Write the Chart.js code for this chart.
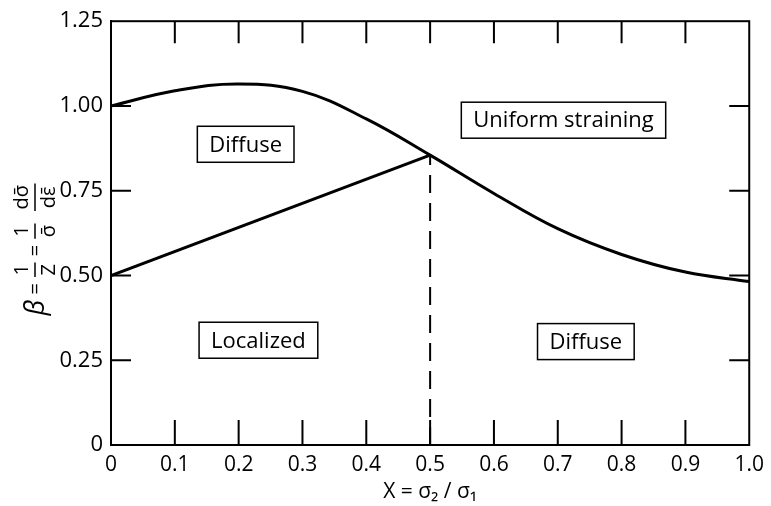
<!DOCTYPE html>
<html lang="en">
<head>
  <meta charset="UTF-8">
  <title>Necking regimes</title>
  <script src="https://cdn.jsdelivr.net/npm/chart.js"></script>
  <style>
    html, body { margin: 0; padding: 0; background: #fff; }
    #wrap { width: 771px; height: 506px; }
  </style>
</head>
<body>
  <div id="wrap"><canvas id="chart" width="771" height="506"></canvas></div>

  <script>
    // upper boundary (diffuse / uniform straining)
    const xValues = [0, 0.1, 0.2, 0.3, 0.4, 0.5, 0.6, 0.7, 0.8, 0.9, 1.0];
    const upperBeta = [1.00, 1.045, 1.065, 1.043, 0.962, 0.855, 0.742, 0.638, 0.562, 0.510, 0.482];

    // localized / diffuse boundary, straight line
    const lowerX = [0, 0.5];
    const lowerBeta = [0.50, 0.855];

    // dashed divider at x = 0.5
    const dashX = [0.5, 0.5];
    const dashBeta = [0, 0.855];

    const xTicks = [0, 0.1, 0.2, 0.3, 0.4, 0.5, 0.6, 0.7, 0.8, 0.9, 1.0];
    const yTicks = [0, 0.25, 0.50, 0.75, 1.00, 1.25];

    // region labels, in data units
    const regionText = ['Uniform straining', 'Diffuse', 'Localized', 'Diffuse'];
    const regionX = [0.709, 0.211, 0.231, 0.744];
    const regionY = [0.958, 0.887, 0.309, 0.305];

    const FONT = '"Open Sans", "DejaVu Sans", sans-serif';

    const toPoints = (xs, ys) => xs.map((x, i) => ({ x: x, y: ys[i] }));

    // box, inner ticks on all four sides, region labels, y title
    const framePlugin = {
      id: 'frame',
      afterDraw(chart) {
        const ctx = chart.ctx;
        const a = chart.chartArea;
        const xs = chart.scales.x;
        const ys = chart.scales.y;
        ctx.save();
        ctx.strokeStyle = '#000';
        ctx.lineWidth = 2;
        ctx.strokeRect(a.left, a.top, a.right - a.left, a.bottom - a.top);

        ctx.beginPath();
        xTicks.forEach(v => {
          if (v === 0 || v === 1) return;
          const px = xs.getPixelForValue(v);
          ctx.moveTo(px, a.bottom); ctx.lineTo(px, a.bottom - 25);
          ctx.moveTo(px, a.top); ctx.lineTo(px, a.top + 22);
        });
        yTicks.forEach(v => {
          if (v === 0 || v === 1.25) return;
          const py = ys.getPixelForValue(v);
          ctx.moveTo(a.left, py); ctx.lineTo(a.left + 20, py);
          ctx.moveTo(a.right, py); ctx.lineTo(a.right - 20, py);
        });
        ctx.stroke();

        // region labels in boxes
        ctx.font = '22px ' + FONT;
        ctx.textAlign = 'center';
        ctx.textBaseline = 'middle';
        ctx.lineWidth = 1.5;
        regionText.forEach((t, i) => {
          const cx = xs.getPixelForValue(regionX[i]);
          const cy = ys.getPixelForValue(regionY[i]);
          const w = ctx.measureText(t).width + 24;
          const h = 36;
          ctx.fillStyle = '#fff';
          ctx.fillRect(cx - w / 2, cy - h / 2, w, h);
          ctx.strokeRect(cx - w / 2, cy - h / 2, w, h);
          ctx.fillStyle = '#000';
          ctx.fillText(t, cx, cy + 1);
        });

        // y axis title:  β = 1/Z = (1/σ̄)(dσ̄/dε̄)
        ctx.translate(35, 249);
        ctx.rotate(-Math.PI / 2);
        const parts = [
          { t: 'β', f: 'italic 27px ' + FONT },
          { t: ' = ', f: '20px ' + FONT },
          { num: '1', den: 'Z' },
          { t: ' = ', f: '20px ' + FONT },
          { num: '1', den: 'σ̄' },
          { t: '  ', f: '20px ' + FONT },
          { num: 'dσ̄', den: 'dε̄' }
        ];
        const fracFont = '20px ' + FONT;
        let total = 0;
        parts.forEach(p => {
          if (p.num) {
            ctx.font = fracFont;
            p.w = Math.max(ctx.measureText(p.num).width, ctx.measureText(p.den).width) + 5;
          } else {
            ctx.font = p.f;
            p.w = ctx.measureText(p.t).width;
          }
          total += p.w;
        });
        let u = -total / 2;
        ctx.textBaseline = 'middle';
        ctx.textAlign = 'center';
        ctx.lineWidth = 1.5;
        parts.forEach(p => {
          const c = u + p.w / 2;
          if (p.num) {
            ctx.font = fracFont;
            ctx.fillText(p.num, c, -13);
            ctx.fillText(p.den, c, 14);
            ctx.beginPath();
            ctx.moveTo(u + 1, 0); ctx.lineTo(u + p.w - 1, 0);
            ctx.stroke();
          } else {
            ctx.font = p.f;
            ctx.fillText(p.t, c, 1);
          }
          u += p.w;
        });
        ctx.restore();
      }
    };

    const ctx = document.getElementById('chart').getContext('2d');
    new Chart(ctx, {
      type: 'line',
      data: {
        datasets: [
          {
            data: toPoints(xValues, upperBeta),
            borderColor: '#000',
            borderWidth: 3,
            pointRadius: 0,
            tension: 0.4
          },
          {
            data: toPoints(lowerX, lowerBeta),
            borderColor: '#000',
            borderWidth: 3,
            pointRadius: 0
          },
          {
            data: toPoints(dashX, dashBeta),
            borderColor: '#000',
            borderWidth: 2,
            borderDash: [18, 10],
            pointRadius: 0
          }
        ]
      },
      options: {
        responsive: false,
        animation: false,
        layout: { padding: { top: 20, right: 11, left: 0, bottom: 0 } },
        plugins: {
          legend: { display: false },
          tooltip: { enabled: false }
        },
        scales: {
          x: {
            type: 'linear',
            min: 0,
            max: 1,
            afterFit: s => { s.height = 61; },
            afterBuildTicks: s => { s.ticks = xTicks.map(v => ({ value: v })); },
            grid: { display: false, drawTicks: false },
            border: { display: true, color: '#000', width: 2 },
            ticks: {
              padding: 7,
              color: '#000',
              font: { family: FONT, size: 21 },
              maxRotation: 0,
              callback: v => v === 0 ? '0' : v.toFixed(1)
            },
            title: {
              display: true,
              text: 'X = σ₂ / σ₁',
              color: '#000',
              font: { family: FONT, size: 21 },
              padding: { top: 0, bottom: 1 }
            }
          },
          y: {
            min: 0,
            max: 1.25,
            afterFit: s => { s.width = 111; },
            afterBuildTicks: s => { s.ticks = yTicks.map(v => ({ value: v })); },
            grid: { display: false, drawTicks: false },
            border: { display: true, color: '#000', width: 2 },
            ticks: {
              padding: 8,
              color: '#000',
              font: { family: FONT, size: 22 },
              callback: v => v === 0 ? '0' : v.toFixed(2)
            }
          }
        }
      },
      plugins: [framePlugin]
    });
  </script>
</body>
</html>
